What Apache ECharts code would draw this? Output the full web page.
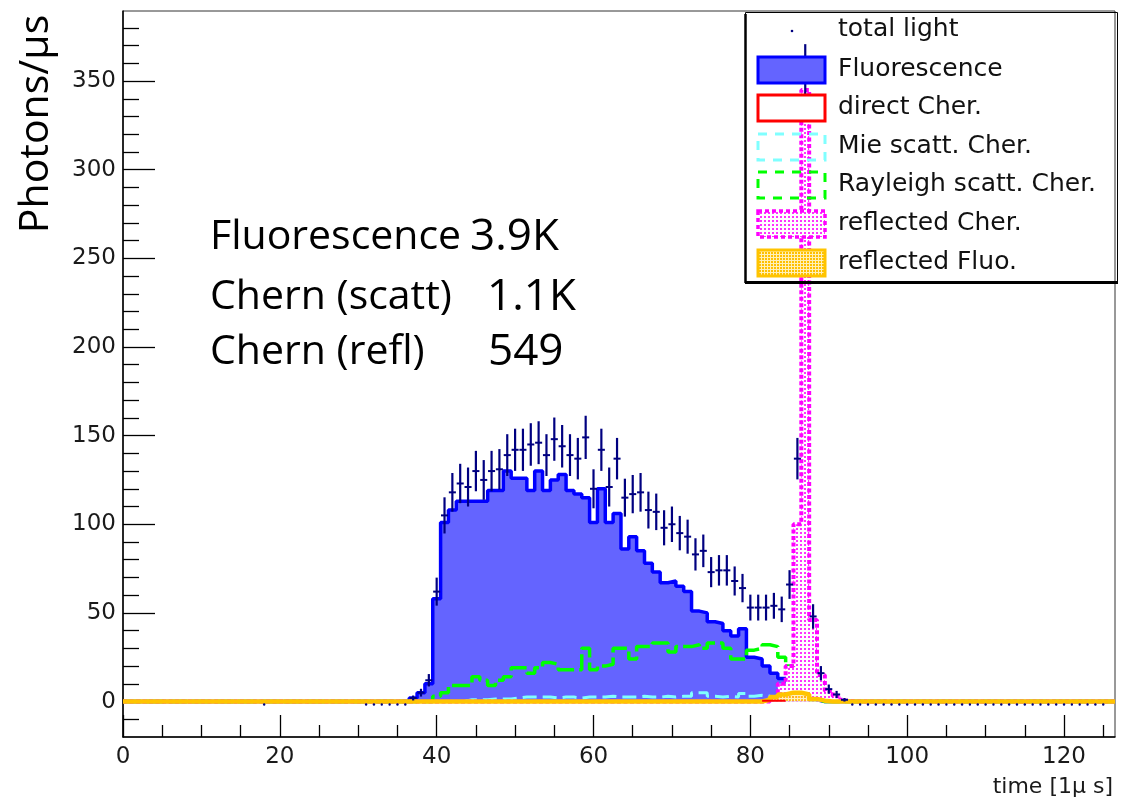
<!DOCTYPE html>
<html>
<head>
<meta charset="utf-8">
<script src="https://cdn.jsdelivr.net/npm/echarts@6/dist/echarts.min.js"></script>
<style>html,body{margin:0;padding:0;background:#fff}#c{width:1122px;height:802px}</style>
</head>
<body>
<div id="c"></div>
<script>
// ---------------- data (bin centres are integers, bin width 1) ----------------
const xMajorTicks = [0, 20, 40, 60, 80, 100, 120];
const xMinorTicks = [5, 10, 15, 25, 30, 35, 45, 50, 55, 65, 70, 75, 85, 90, 95, 105, 110, 115, 125];
const yMajorTicks = [0, 50, 100, 150, 200, 250, 300, 350];
const yMinorTicks = [-10, 10, 20, 30, 40, 60, 70, 80, 90, 110, 120, 130, 140, 160, 170, 180, 190,
  210, 220, 230, 240, 260, 270, 280, 290, 310, 320, 330, 340, 360, 370, 380];

const fluoStart = 36;   // Fluorescence, bins 36..88
const fluorescence = [0, 2, 5, 10,
  58, 101, 108, 113, 113, 113, 113, 119, 119, 130,
  126, 126, 119, 130, 119, 125, 128, 119, 117, 115,
  101, 120, 101, 106, 86, 93, 85, 78, 73, 67,
  68, 65, 62, 51, 50, 45, 44, 40, 37, 41,
  25, 24, 20, 16, 13, 8, 4, 2, 1];

const rayStart = 40;    // Rayleigh scatt. Cher., bins 40..88
const rayleigh = [3, 5, 9, 9, 9, 14, 12, 9, 12, 14,
  19, 19, 16, 19, 22, 21, 18, 18, 18, 30,
  18, 20, 21, 30, 30, 24, 31, 31, 33, 33,
  28, 31, 31, 32, 30, 33, 33, 30, 24, 24,
  29, 30, 32, 31, 25, 20, 10, 4, 1];

const mieStart = 44;    // Mie scatt. Cher., bins 44..89
const mie = [1, 1, 1, 1.5, 1.5, 1.5,
  2, 2.5, 2.5, 2.5, 2.5, 2, 2.5, 2.5, 2, 2.5,
  2.5, 2.5, 3, 2.5, 2.5, 2.5, 3, 2.5, 2.5, 3,
  2.5, 3, 3, 5, 5, 3, 2.5, 3, 2.5, 4.5,
  3, 3.5, 3, 1.5, 2, 2, 3.5, 4, 1.5, 0.5];

const directStart = 82; // direct Cher., bins 82..84
const directCher = [0.4, 0.4, 0.4];

const reflCherStart = 83; // reflected Cher., bins 83..92
const reflCher = [2, 10, 20, 100, 345, 46, 15, 6, 3, 0.5];

const reflFluoStart = 82; // reflected Fluo., bins 82..89
const reflFluo = [1, 2.5, 4, 5, 5, 4, 1.5, 0.5];

const totalStart = 37;  // total light, bins 37..92
const totalLight = [2, 5, 12,
  62, 105, 118, 123, 121, 130, 125, 130, 131, 139,
  142, 142, 145, 146, 139, 148, 144, 139, 137, 149,
  120, 142, 121, 137, 115, 117, 118, 108, 107, 98,
  100, 95, 93, 83, 85, 73, 74, 74, 68, 64,
  53, 53, 53, 54, 52, 66, 137, 352, 48, 16,
  7, 4, 1];
const totalErr = [1.4, 2.2, 3.5,
  7.9, 10.2, 10.9, 11.1, 11, 11.4, 11.2, 11.4, 11.4, 11.8,
  11.9, 11.9, 12, 12.1, 11.8, 12.2, 12, 11.8, 11.7, 12.2,
  11, 11.9, 11, 11.7, 10.7, 10.8, 10.9, 10.4, 10.3, 9.9,
  10, 9.7, 9.6, 9.1, 9.2, 8.5, 8.6, 8.6, 8.2, 8,
  7.3, 7.3, 7.3, 7.3, 7.2, 8.1, 11.7, 18.8, 6.9, 4,
  2.6, 2, 1];
const zeroMarkerBins = [18, 31, 32, 33, 34, 35, 36,
  93, 94, 95, 96, 97, 98, 99, 100, 101, 102, 103, 104, 105, 106, 107, 108, 109,
  110, 111, 112, 113, 114, 115, 116, 117, 118, 119, 120, 121, 122, 123, 124, 125];

// ---------------- helpers ----------------
const xMin = 0, xMax = 126.5, yMin = -20, yMax = 389.5;
const firstBin = 0, lastBin = 126;

function histData(start, vals, from, to) {
  const pts = [];
  for (let b = from; b <= to; b++) {
    const i = b - start;
    const v = (i >= 0 && i < vals.length) ? vals[i] : 0;
    pts.push([Math.max(xMin, b - 0.5), v], [Math.min(xMax, b + 0.5), v]);
  }
  return pts;
}
function pattern(fg, bg, size, dot) {
  const c = document.createElement('canvas');
  c.width = size; c.height = size;
  const g = c.getContext('2d');
  g.fillStyle = bg; g.fillRect(0, 0, size, size);
  g.fillStyle = fg; g.fillRect(0, 0, dot, dot);
  return { image: c, repeat: 'repeat' };
}
const magPattern = pattern('#ff33ff', '#ffffff', 4, 2);
const orgPattern = pattern('#ffc000', '#fff0b8', 3, 2);

const totalPts = totalLight.map((v, i) => [totalStart + i, v, totalErr[i]]);
zeroMarkerBins.forEach(b => totalPts.push([b, 0, 0]));

const NAVY = '#000080';
const chart = echarts.init(document.getElementById('c'), null, { renderer: 'canvas' });

const tickFont = { fontSize: 23, fontFamily: 'DejaVu Sans', color: '#1a1a1a' };
const annFont = '41px "Open Sans"';
const numFont = '44px "Open Sans"';

const option = {
  animation: false,
  backgroundColor: '#ffffff',
  grid: { left: 123, right: 7, top: 11, bottom: 65, show: true, borderColor: '#333', borderWidth: 1, backgroundColor: 'transparent' },
  xAxis: [
    { type: 'value', min: xMin, max: xMax, position: 'bottom',
      axisLine: { show: true, onZero: false, lineStyle: { color: '#000', width: 1.5 } },
      axisTick: { show: true, inside: true, length: 22, customValues: xMajorTicks, lineStyle: { color: '#000', width: 1.3 } },
      axisLabel: Object.assign({ customValues: xMajorTicks, margin: 9 }, tickFont),
      splitLine: { show: false } },
    { type: 'value', min: xMin, max: xMax, position: 'bottom',
      axisLine: { show: false, onZero: false },
      axisTick: { show: true, inside: true, length: 12, customValues: xMinorTicks, lineStyle: { color: '#000', width: 1.3 } },
      axisLabel: { show: false }, splitLine: { show: false } }
  ],
  yAxis: [
    { type: 'value', min: yMin, max: yMax, position: 'left',
      axisLine: { show: true, onZero: false, lineStyle: { color: '#000', width: 1.5 } },
      axisTick: { show: true, inside: true, length: 32, customValues: yMajorTicks, lineStyle: { color: '#000', width: 1.3 } },
      axisLabel: Object.assign({ customValues: yMajorTicks, margin: 7 }, tickFont),
      splitLine: { show: false } },
    { type: 'value', min: yMin, max: yMax, position: 'left',
      axisLine: { show: false, onZero: false },
      axisTick: { show: true, inside: true, length: 16, customValues: yMinorTicks, lineStyle: { color: '#000', width: 1.3 } },
      axisLabel: { show: false }, splitLine: { show: false } }
  ],
  series: [
    { name: 'Fluorescence', type: 'line', z: 1, symbol: 'none', clip: true,
      data: histData(fluoStart, fluorescence, firstBin, lastBin),
      lineStyle: { color: '#0000ff', width: 3.5 },
      areaStyle: { color: '#6464ff', opacity: 1 } },
    { name: 'Mie scatt. Cher.', type: 'line', z: 2, symbol: 'none', clip: true,
      data: histData(mieStart, mie, firstBin, lastBin),
      lineStyle: { color: '#80ffff', width: 3, type: [14, 6] } },
    { name: 'Rayleigh scatt. Cher.', type: 'line', z: 3, symbol: 'none', clip: true,
      data: histData(rayStart, rayleigh, firstBin, lastBin),
      lineStyle: { color: '#00ff00', width: 3.5, type: [18, 5] } },
    { name: 'reflected Cher.', type: 'line', z: 4, symbol: 'none', clip: true,
      data: histData(reflCherStart, reflCher, firstBin, lastBin),
      lineStyle: { color: '#ff00ff', width: 4, type: [4, 2.5] },
      areaStyle: { color: magPattern, opacity: 1 } },
    { name: 'reflected Fluo.', type: 'line', z: 5, symbol: 'none', clip: true,
      data: histData(reflFluoStart, reflFluo, firstBin, lastBin),
      lineStyle: { color: '#ffc400', width: 4.5 },
      areaStyle: { color: orgPattern, opacity: 0.85 } },
    { name: 'direct Cher.', type: 'line', z: 6, symbol: 'none', clip: true,
      data: histData(directStart, directCher, directStart, directStart + directCher.length - 1),
      lineStyle: { color: '#ff0000', width: 2 } },
    { name: 'total light', type: 'custom', z: 7, clip: true,
      data: totalPts,
      encode: { x: 0, y: 1 },
      renderItem: function (params, api) {
        const x = api.value(0), v = api.value(1), e = api.value(2);
        if (v === 0) {
          const p = api.coord([x, 0]);
          return { type: 'circle', shape: { cx: p[0], cy: p[1] + 3, r: 1.2 }, style: { fill: NAVY } };
        }
        const t = api.coord([x, v + e]), b = api.coord([x, v - e]);
        const l = api.coord([x - 0.45, v]), r = api.coord([x + 0.45, v]);
        return { type: 'group', children: [
          { type: 'line', shape: { x1: t[0], y1: t[1], x2: b[0], y2: b[1] }, style: { stroke: NAVY, lineWidth: 2.2 } },
          { type: 'line', shape: { x1: l[0], y1: l[1], x2: r[0], y2: r[1] }, style: { stroke: NAVY, lineWidth: 2 } }
        ] };
      } }
  ],
  graphic: [
    // y-axis title
    { type: 'text', x: 36, y: 124, rotation: Math.PI / 2, z: 100,
      style: { text: 'Photons/\u03bcs', font: '41px "Open Sans"', fill: '#000', align: 'center', verticalAlign: 'middle' } },
    // x-axis title
    { type: 'text', x: 1113, y: 787, z: 100,
      style: { text: 'time [1\u03bc s]', font: '22px "DejaVu Sans"', fill: '#1a1a1a', align: 'right', verticalAlign: 'middle' } },
    // annotation
    { type: 'text', x: 210, y: 237, z: 100, style: { text: 'Fluorescence', font: annFont, fill: '#000', align: 'left', verticalAlign: 'middle' } },
    { type: 'text', x: 470, y: 237, z: 100, style: { text: '3.9K', font: numFont, fill: '#000', align: 'left', verticalAlign: 'middle' } },
    { type: 'text', x: 210, y: 297, z: 100, style: { text: 'Chern (scatt)', font: annFont, fill: '#000', align: 'left', verticalAlign: 'middle' } },
    { type: 'text', x: 487, y: 297, z: 100, style: { text: '1.1K', font: numFont, fill: '#000', align: 'left', verticalAlign: 'middle' } },
    { type: 'text', x: 210, y: 352, z: 100, style: { text: 'Chern (refl)', font: annFont, fill: '#000', align: 'left', verticalAlign: 'middle' } },
    { type: 'text', x: 488, y: 352, z: 100, style: { text: '549', font: numFont, fill: '#000', align: 'left', verticalAlign: 'middle' } },
    // legend frame
    { type: 'rect', z: 100, shape: { x: 745.5, y: 12.5, width: 372, height: 269 }, style: { fill: 'none', stroke: '#000', lineWidth: 1 } },
    { type: 'line', z: 100, shape: { x1: 745.5, y1: 14, x2: 745.5, y2: 283 }, style: { stroke: '#000', lineWidth: 2.5 } },
    { type: 'line', z: 100, shape: { x1: 745, y1: 282.5, x2: 1118, y2: 282.5 }, style: { stroke: '#000', lineWidth: 3 } },
    // legend entries
    { type: 'circle', z: 100, shape: { cx: 792, cy: 31, r: 1.3 }, style: { fill: NAVY } },
    { type: 'rect', z: 100, shape: { x: 758, y: 57, width: 67, height: 26 }, style: { fill: '#6464ff', stroke: '#0000ff', lineWidth: 3 } },
    { type: 'rect', z: 100, shape: { x: 758, y: 95, width: 67, height: 26 }, style: { fill: '#ffffff', stroke: '#ff0000', lineWidth: 3 } },
    { type: 'rect', z: 100, shape: { x: 758, y: 134, width: 67, height: 26 }, style: { fill: 'none', stroke: '#80ffff', lineWidth: 3, lineDash: [9, 8] } },
    { type: 'rect', z: 100, shape: { x: 758, y: 172, width: 67, height: 26 }, style: { fill: 'none', stroke: '#00ff00', lineWidth: 3, lineDash: [9, 8] } },
    { type: 'rect', z: 100, shape: { x: 758, y: 211, width: 67, height: 26 }, style: { fill: magPattern, stroke: '#ff00ff', lineWidth: 3.5, lineDash: [4, 3] } },
    { type: 'rect', z: 100, shape: { x: 758, y: 250, width: 67, height: 26 }, style: { fill: orgPattern, stroke: '#ffc400', lineWidth: 3 } },
    { type: 'text', x: 838, y: 29, z: 100, style: { text: 'total light', font: '25px "DejaVu Sans"', fill: '#111', align: 'left', verticalAlign: 'middle' } },
    { type: 'text', x: 838, y: 69, z: 100, style: { text: 'Fluorescence', font: '25px "DejaVu Sans"', fill: '#111', align: 'left', verticalAlign: 'middle' } },
    { type: 'text', x: 838, y: 107, z: 100, style: { text: 'direct Cher.', font: '25px "DejaVu Sans"', fill: '#111', align: 'left', verticalAlign: 'middle' } },
    { type: 'text', x: 838, y: 146, z: 100, style: { text: 'Mie scatt. Cher.', font: '25px "DejaVu Sans"', fill: '#111', align: 'left', verticalAlign: 'middle' } },
    { type: 'text', x: 838, y: 184, z: 100, style: { text: 'Rayleigh scatt. Cher.', font: '25px "DejaVu Sans"', fill: '#111', align: 'left', verticalAlign: 'middle' } },
    { type: 'text', x: 838, y: 223, z: 100, style: { text: 'reflected Cher.', font: '25px "DejaVu Sans"', fill: '#111', align: 'left', verticalAlign: 'middle' } },
    { type: 'text', x: 838, y: 262, z: 100, style: { text: 'reflected Fluo.', font: '25px "DejaVu Sans"', fill: '#111', align: 'left', verticalAlign: 'middle' } }
  ]
};
chart.setOption(option);
</script>
</body>
</html>
